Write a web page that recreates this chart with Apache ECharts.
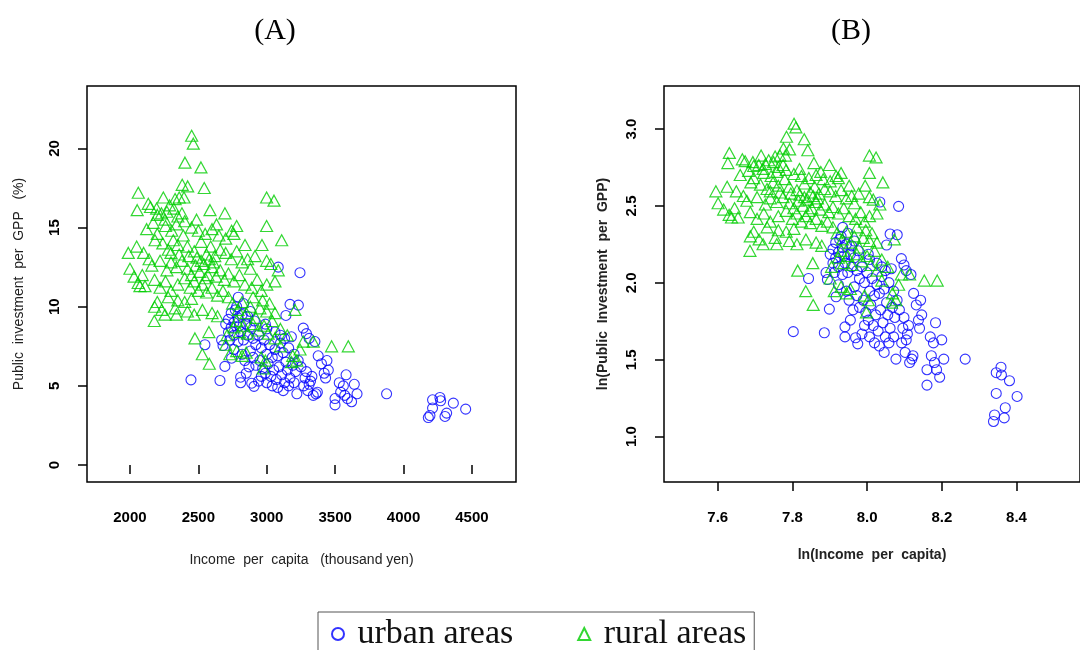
<!DOCTYPE html>
<html>
<head>
<meta charset="utf-8">
<script src="https://cdn.jsdelivr.net/npm/echarts@6/dist/echarts.min.js"></script>
<style>
  html, body { margin: 0; background: #fff; }
  #container { width: 1080px; height: 650px; }
</style>
</head>
<body>
<div id="container"></div>
<script>
// income per capita (thousand yen), public investment per GPP (%)
const urbanPoints = [
  [3084, 12.5], [3243, 12.15], [3170, 10.15], [3231, 10.1], [3140, 9.45], [3267, 8.65],
  [3290, 8.3], [3310, 8.0], [3352, 7.8], [3376, 6.9], [3400, 6.4], [3440, 6.6],
  [3450, 6.0], [3420, 5.8], [3430, 5.5], [3330, 5.6], [3290, 5.9], [3310, 5.1],
  [3300, 4.7], [3320, 5.3], [3270, 5.0], [3280, 5.5], [3340, 4.4], [3360, 4.5],
  [3370, 4.6], [3499, 4.2], [3499, 3.8], [3530, 5.2], [3560, 5.0], [3580, 5.7],
  [3540, 4.6], [3570, 4.4], [3590, 4.2], [3620, 4.0], [3660, 4.5], [3640, 5.1],
  [3876, 4.5], [4212, 4.12], [4266, 4.27], [4271, 4.06], [4212, 3.6], [4181, 3.0],
  [4193, 3.13], [4303, 3.07], [4315, 3.28], [4364, 3.91], [4454, 3.53],
  [2446, 5.38], [2658, 5.34], [2809, 5.55], [2809, 5.2], [2890, 5.17], [2907, 4.97],
  [2548, 7.6], [2670, 7.9], [2680, 7.55], [2694, 6.23], [2743, 6.75], [2780, 10.0],
  [2792, 10.6], [2720, 9.2], [2740, 9.6], [2760, 9.0], [2770, 9.8], [2790, 9.3],
  [2800, 8.8], [2820, 9.5], [2830, 10.2], [2850, 8.9], [2860, 9.4], [2740, 8.7],
  [2720, 8.4], [2700, 8.9], [2760, 8.2], [2790, 7.8], [2810, 8.4], [2830, 7.9],
  [2860, 8.2], [2880, 8.7], [2900, 8.0], [2920, 7.6], [2940, 8.2], [2960, 7.4],
  [2980, 7.9], [3000, 7.0], [3020, 7.6], [3040, 6.8], [3060, 7.3], [3080, 6.9],
  [3100, 7.7], [3120, 7.1], [3140, 6.5], [3160, 7.4], [3180, 8.1], [3200, 7.0],
  [3060, 8.4], [3000, 8.6], [3100, 8.2], [3130, 8.0], [2880, 7.2], [2900, 6.8],
  [2920, 6.3], [2950, 6.6], [2970, 6.1], [2990, 5.8], [3010, 6.4], [3030, 5.6],
  [3050, 6.0], [3070, 5.4], [3090, 6.2], [3110, 5.7], [3130, 5.2], [3150, 6.0],
  [3170, 5.5], [3190, 6.3], [3210, 5.9], [3230, 6.6], [3250, 6.2], [2940, 5.3],
  [2960, 5.6], [2850, 5.8], [2870, 6.2], [3000, 5.2], [3040, 5.0], [3080, 4.9],
  [3120, 4.7], [3160, 5.0], [3200, 5.2], [3220, 4.5], [2760, 7.3], [2730, 7.9],
  [2840, 6.6], [2820, 7.0], [2990, 8.9], [2880, 9.7], [2910, 9.1]
];

const ruralPoints = [
  [2451, 20.8], [2463, 20.3], [2402, 19.1], [2519, 18.8], [2382, 17.7], [2422, 17.6],
  [2543, 17.5], [2061, 17.2], [2999, 16.9], [3053, 16.7], [2244, 16.9], [2330, 16.8],
  [2360, 16.9], [2395, 16.9], [2134, 16.5], [2053, 16.1], [2195, 16.2], [2585, 16.1],
  [2694, 15.9], [2999, 15.1], [3109, 14.2], [2780, 15.1], [2487, 15.5], [2256, 15.5],
  [2170, 15.3], [2122, 14.9], [2305, 14.8], [2633, 15.2], [2743, 14.8], [1988, 13.4],
  [2049, 13.8], [2183, 14.2], [2317, 14.2], [2841, 13.9], [2914, 13.2], [2999, 12.9],
  [2150, 16.3], [2200, 15.8], [2230, 15.9], [2270, 16.0], [2290, 16.4], [2320, 16.2],
  [2350, 15.7], [2380, 15.9], [2260, 15.1], [2340, 15.2], [2400, 15.4], [2450, 15.0],
  [2500, 14.8], [2550, 14.6], [2600, 14.9], [2650, 14.5], [2700, 14.3], [2760, 14.6],
  [2200, 14.6], [2240, 14.0], [2280, 13.6], [2350, 13.9], [2390, 14.5], [2420, 13.8],
  [2470, 13.5], [2520, 14.1], [2560, 13.3], [2590, 13.8], [2620, 13.2], [2660, 13.6],
  [2700, 13.4], [2740, 13.0], [2780, 13.5], [2820, 12.8], [2860, 13.0], [2880, 12.4],
  [2100, 13.4], [2140, 13.0], [2160, 12.6], [2220, 12.9], [2270, 12.3], [2300, 12.8],
  [2340, 12.5], [2380, 12.9], [2420, 12.4], [2450, 12.0], [2480, 12.6], [2510, 12.2],
  [2540, 12.7], [2570, 12.0], [2600, 12.5], [2630, 11.9], [2660, 12.3], [2690, 11.7],
  [2720, 12.1], [2760, 11.6], [2800, 12.0], [2840, 11.4], [2000, 12.4], [2030, 11.9],
  [2060, 11.5], [2090, 12.0], [2110, 11.3], [2180, 11.7], [2220, 11.2], [2260, 11.6],
  [2300, 11.0], [2350, 11.4], [2400, 11.8], [2440, 11.2], [2470, 11.6], [2500, 11.0],
  [2530, 11.4], [2560, 10.9], [2600, 11.2], [2640, 10.7], [2680, 11.0], [2720, 10.6],
  [2550, 11.8], [2520, 12.9], [2580, 13.0], [2610, 12.8], [2490, 13.1], [2430, 13.2],
  [2360, 13.3], [2300, 13.4], [2073, 11.3], [2178, 9.1], [2232, 9.8], [2180, 10.0],
  [2256, 9.5], [2330, 9.9], [2340, 9.5], [2420, 9.7], [2470, 9.5], [2530, 9.8],
  [2600, 9.6], [2640, 9.4], [2475, 8.0], [2577, 8.4], [2529, 7.0], [2580, 6.4],
  [2350, 10.4], [2280, 10.6], [2400, 10.3], [2450, 10.5], [2200, 10.3], [2750, 10.2],
  [2790, 9.8], [2820, 10.3], [2850, 9.6], [2880, 10.0], [2900, 10.6], [2920, 9.3],
  [2950, 9.9], [2970, 10.4], [3000, 9.7], [3020, 10.2], [3040, 9.1], [3060, 9.6],
  [2960, 11.0], [3000, 11.4], [3060, 11.6], [3084, 12.3], [2930, 11.7], [2890, 11.2],
  [2980, 8.8], [2940, 8.5], [2900, 8.9], [2860, 8.3], [2830, 8.8], [2800, 8.4],
  [2780, 9.1], [2760, 8.7], [3010, 8.3], [3060, 8.0], [3100, 8.6], [3206, 9.8],
  [3150, 8.2], [2730, 7.0], [2780, 7.2], [2820, 6.9], [2850, 7.1], [2960, 6.8],
  [2990, 6.6], [2975, 6.1], [3190, 6.9], [3220, 6.6], [3182, 6.5], [3243, 7.3],
  [3267, 7.8], [3340, 7.8], [3474, 7.5], [3596, 7.5], [2700, 7.6], [2710, 8.2],
  [3100, 7.5], [3030, 12.7], [2965, 13.9]
];

const incomeTicks = [2000, 2500, 3000, 3500, 4000, 4500];
const investTicks = [0, 5, 10, 15, 20];
const lnIncomeTicks = [7.6, 7.8, 8.0, 8.2, 8.4];
const lnInvestTicks = [1.0, 1.5, 2.0, 2.5, 3.0];

// panel B is the log of panel A
const toLog = (points) => points.map(([x, y]) => [Math.log(x), Math.log(y)]);

const tickFont = "'Liberation Sans', Arial, sans-serif";
const serifFont = "'Liberation Serif', 'DejaVu Serif', serif";

const makeAxis = (gridIndex, min, max, ticks, opts) => ({
  gridIndex: gridIndex,
  type: "value",
  min: min,
  max: max,
  axisLine: { show: false },
  splitLine: { show: false },
  axisTick: {
    show: true,
    inside: false,
    length: 9,
    customValues: ticks,
    lineStyle: { color: "#000", width: 1.5 },
  },
  axisLabel: {
    customValues: ticks,
    margin: opts.margin,
    rotate: opts.rotate || 0,
    formatter: opts.formatter,
    fontFamily: tickFont,
    fontWeight: "bold",
    fontSize: 15,
    color: "#000",
  },
  name: opts.name,
  nameLocation: "middle",
  nameGap: opts.nameGap,
  nameTextStyle: {
    fontFamily: "'Liberation Sans', Arial, sans-serif",
    fontWeight: opts.nameBold ? "bold" : "normal",
    fontSize: 14,
    color: "#222",
  },
});

const plain = (v) => String(v);
const oneDecimal = (v) => v.toFixed(1);

const urbanStyle = {
  symbol: "circle",
  symbolSize: 10,
  itemStyle: { color: "rgba(0,0,0,0)", borderColor: "#0000FF", borderWidth: 1.1 },
};
const ruralStyle = {
  symbol: "triangle",
  symbolSize: [12, 11],
  itemStyle: { color: "rgba(0,0,0,0)", borderColor: "#00CD00", borderWidth: 1.2 },
};

const dom = document.getElementById("container");
const myChart = echarts.init(dom, null, { renderer: "canvas" });

const option = {
  backgroundColor: "#FFFFFF",
  animation: false,
  title: [
    {
      text: "(A)",
      left: 270,
      top: 11,
      textAlign: "center",
      textStyle: { fontFamily: serifFont, fontSize: 30, fontWeight: "normal", color: "#000" },
    },
    {
      text: "(B)",
      left: 846,
      top: 11,
      textAlign: "center",
      textStyle: { fontFamily: serifFont, fontSize: 30, fontWeight: "normal", color: "#000" },
    },
  ],
  grid: [
    { left: 87, top: 86, width: 429, height: 396, show: true, borderColor: "#000", borderWidth: 1.5 },
    { left: 664, top: 86, width: 440, height: 396, show: true, borderColor: "#000", borderWidth: 1.5 },
  ],
  xAxis: [
    makeAxis(0, 1686, 4822, incomeTicks, {
      margin: 28,
      formatter: plain,
      name: "Income  per  capita   (thousand yen)",
      nameGap: 71,
    }),
    makeAxis(1, 7.456, 8.57, lnIncomeTicks, {
      margin: 28,
      formatter: oneDecimal,
      name: "ln(Income  per  capita)",
      nameGap: 66,
      nameBold: true,
    }),
  ],
  yAxis: [
    makeAxis(0, -1.07, 23.94, investTicks, {
      margin: 25,
      rotate: 90,
      formatter: plain,
      name: "Public  investment  per  GPP   (%)",
      nameGap: 61,
    }),
    makeAxis(1, 0.705, 3.28, lnInvestTicks, {
      margin: 25,
      rotate: 90,
      formatter: oneDecimal,
      name: "ln(Public  Investment  per  GPP)",
      nameGap: 54,
      nameBold: true,
    }),
  ],
  legend: {
    data: ["urban areas", "rural areas"],
    left: 318,
    top: 612,
    padding: [5, 8, 20, 13],
    borderColor: "#555",
    borderWidth: 1,
    itemGap: 64,
    itemWidth: 12,
    itemHeight: 12,
    formatter: (name) => " " + name,
    textStyle: { fontFamily: serifFont, fontSize: 34, color: "#111" },
  },
  series: [
    { name: "urban areas", type: "scatter", xAxisIndex: 0, yAxisIndex: 0, data: urbanPoints, silent: true, ...urbanStyle },
    { name: "rural areas", type: "scatter", xAxisIndex: 0, yAxisIndex: 0, data: ruralPoints, silent: true, ...ruralStyle },
    { name: "urban areas", type: "scatter", xAxisIndex: 1, yAxisIndex: 1, data: toLog(urbanPoints), silent: true, ...urbanStyle },
    { name: "rural areas", type: "scatter", xAxisIndex: 1, yAxisIndex: 1, data: toLog(ruralPoints), silent: true, ...ruralStyle },
  ],
};

myChart.setOption(option);
</script>
</body>
</html>
